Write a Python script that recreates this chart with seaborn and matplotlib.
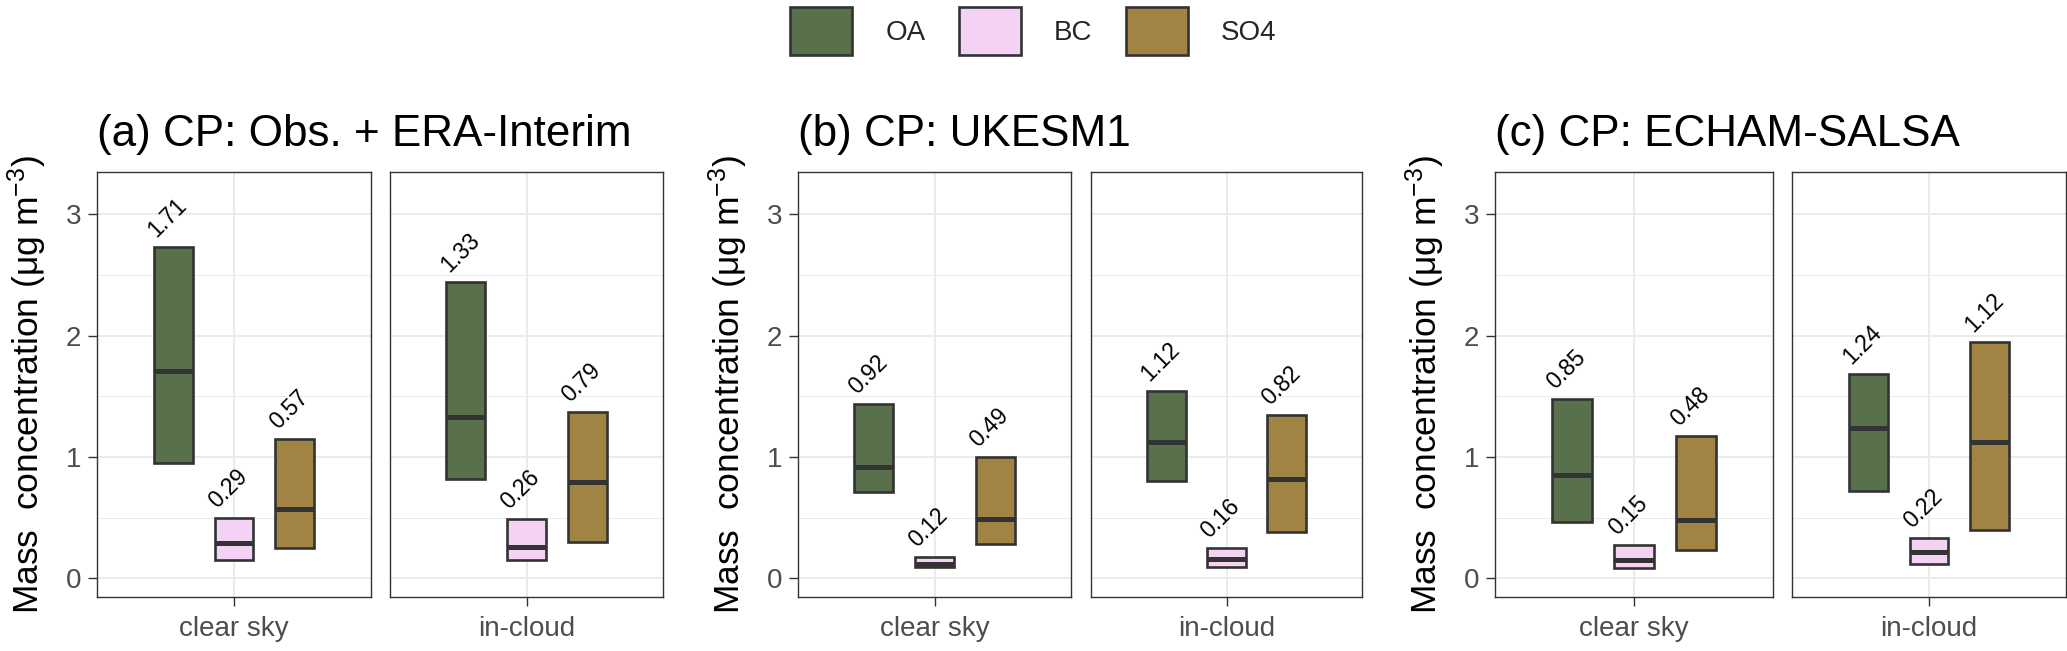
import matplotlib
matplotlib.use('Agg')
import pandas as pd
import matplotlib.pyplot as plt
import seaborn as sns

#======================================================================================
# Data: 25th percentile, median, 75th percentile
panels     = ['(a) CP: Obs. + ERA-Interim', '(b) CP: UKESM1', '(c) CP: ECHAM-SALSA']
conditions = ['clear sky', 'in-cloud']
species    = ['OA', 'BC', 'SO4']
colours    = ['#567646', '#F8CCF8', '#B08A34']

# order inside each list: [clear sky [OA, BC, SO4], in-cloud [OA, BC, SO4]]
q25_a = [[0.95, 0.15, 0.245], [0.815, 0.15, 0.30]]
med_a = [[1.71, 0.29, 0.57],  [1.33, 0.26, 0.79]]
q75_a = [[2.73, 0.50, 1.15],  [2.44, 0.49, 1.37]]

q25_b = [[0.71, 0.09, 0.28],  [0.80, 0.095, 0.38]]
med_b = [[0.92, 0.12, 0.49],  [1.12, 0.16, 0.82]]
q75_b = [[1.44, 0.175, 1.00], [1.54, 0.245, 1.345]]

q25_c = [[0.46, 0.085, 0.23], [0.72, 0.12, 0.40]]
med_c = [[0.85, 0.15, 0.48],  [1.24, 0.22, 1.12]]
q75_c = [[1.48, 0.27, 1.17],  [1.685, 0.335, 1.95]]

q25s = [q25_a, q25_b, q25_c]
meds = [med_a, med_b, med_c]
q75s = [q75_a, q75_b, q75_c]

# long table: five points per box so that the quartiles land on q25 / median / q75
rows = []
for p, panel in enumerate(panels):
    for c, cond in enumerate(conditions):
        for s, sp in enumerate(species):
            lo, mid, hi = q25s[p][c][s], meds[p][c][s], q75s[p][c][s]
            for v in [lo, lo, mid, hi, hi]:
                rows.append({'panel': panel, 'sky': cond, 'species': sp, 'value': v})
data = pd.DataFrame(rows)

#======================================================================================
# Style
sns.set_theme(style='white')
plt.rcParams['font.family'] = ['Liberation Sans', 'DejaVu Sans']
plt.rcParams['mathtext.fontset'] = 'custom'
plt.rcParams['mathtext.rm'] = 'Liberation Sans'
plt.rcParams['mathtext.default'] = 'regular'

W, H = 2067, 651
fig = plt.figure(figsize=(W / 100, H / 100), dpi=100)

# panel boxes in pixels (left, width)
lefts  = [97, 390, 798, 1091, 1495, 1792]
widths = [274, 273, 273, 271, 278, 274]
top, bottom = 172, 597

edge = '#333333'
dodge = 0.8 / len(species)

handles, labels = None, None
for p, panel in enumerate(panels):
    for c, cond in enumerate(conditions):
        k = 2 * p + c
        ax = fig.add_axes([lefts[k] / W, (H - bottom) / H, widths[k] / W, (bottom - top) / H])
        sub = data[(data['panel'] == panel) & (data['sky'] == cond)]
        sns.boxplot(data=sub, x='sky', y='value', hue='species', hue_order=species,
                    palette=colours, width=0.8, gap=0.36, whis=0, showcaps=False,
                    showfliers=False, linecolor=edge, linewidth=1.9,
                    medianprops=dict(linewidth=3.6, color=edge),
                    whiskerprops=dict(linewidth=0), ax=ax, legend=(k == 0))
        if k == 0:
            handles, labels = ax.get_legend_handles_labels()
        if ax.get_legend() is not None:
            ax.get_legend().remove()

        # median labels above the boxes
        for s, sp in enumerate(species):
            xpos = (s - 1) * dodge
            ax.annotate('%.2f' % meds[p][c][s], xy=(xpos, q75s[p][c][s]),
                        xytext=(-17, 9), textcoords='offset pixels',
                        rotation=45, rotation_mode='anchor', ha='left', va='baseline',
                        fontsize=16.5, color='black')

        ax.set_xlim(-0.6, 0.6)
        ax.set_ylim(-0.155, 3.35)
        ax.set_yticks([0, 1, 2, 3])
        ax.set_yticks([0.5, 1.5, 2.5], minor=True)
        ax.grid(True, which='major', color='#EBEBEB', linewidth=1.4)
        ax.grid(True, which='minor', axis='y', color='#EBEBEB', linewidth=0.7)
        ax.set_axisbelow(True)
        for sp_ in ax.spines.values():
            sp_.set_color(edge)
            sp_.set_linewidth(1.0)
        ax.tick_params(axis='both', which='major', length=6.5, width=1, color=edge,
                       labelsize=20, labelcolor='#4D4D4D', pad=5, bottom=True, left=(c == 0))
        ax.tick_params(axis='x', which='major', pad=7)
        ax.tick_params(axis='y', which='minor', length=0)
        ax.set_xlabel('')
        if c == 0:
            ax.set_ylabel('Mass  concentration (μg m$^{-3}$)', fontsize=25.5,
                          color='black', labelpad=12)
            ax.set_title(panel, loc='left', fontsize=31.7, pad=19, color='black')
        else:
            ax.set_ylabel('')
            ax.set_yticklabels([])

fig.legend(handles, labels, loc='center', bbox_to_anchor=(0.5, 1 - 31 / H), ncol=3,
           frameon=False, fontsize=20, handlelength=2.23, handleheight=2.23,
           handletextpad=1.2, columnspacing=1.2, borderpad=0.0, borderaxespad=0)

fig.savefig('out.png', dpi=100)
